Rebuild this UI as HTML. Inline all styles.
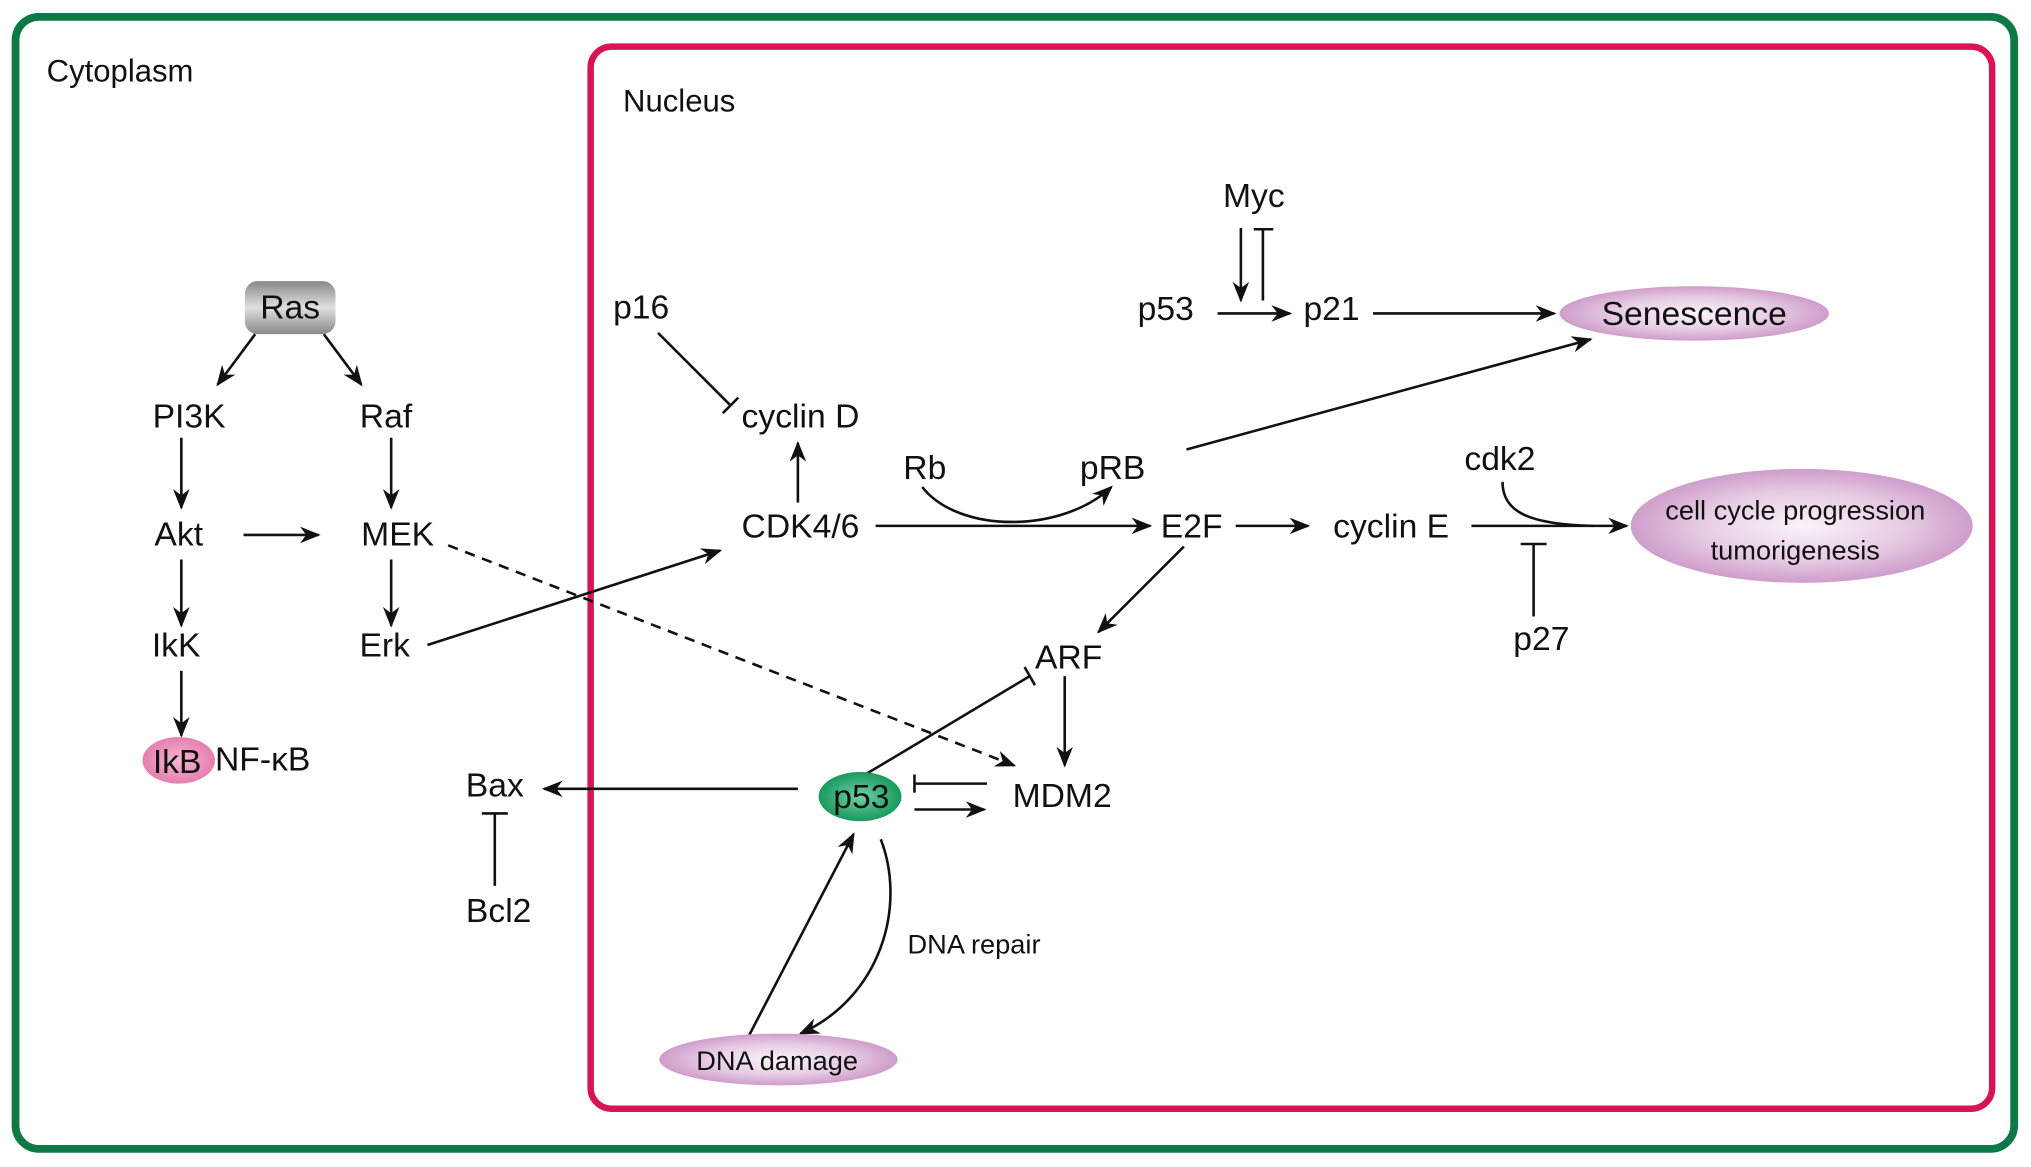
<!DOCTYPE html>
<html><head><meta charset="utf-8"><style>
html,body{margin:0;padding:0;background:#fff;}
svg{display:block;}
text{font-family:"Liberation Sans",sans-serif;fill:#111;}
</style></head><body>
<svg width="2031" height="1167" viewBox="0 0 1568 901" preserveAspectRatio="none" xmlns="http://www.w3.org/2000/svg">
<defs>
<marker id="a2" viewBox="0 0 10 10" refX="9" refY="5" markerWidth="16" markerHeight="16" markerUnits="userSpaceOnUse" orient="auto"><path d="M0,1 L10,5 L0,9 L3,5z" fill="#111"/></marker>
<radialGradient id="pur" cx="50%" cy="50%" r="50%"><stop offset="0" stop-color="#faf4f9"/><stop offset=".6" stop-color="#e6cbe3"/><stop offset="1" stop-color="#cf9dcb"/></radialGradient>
<linearGradient id="ras" x1="0" y1="0" x2="0" y2="1"><stop offset="0" stop-color="#888"/><stop offset=".5" stop-color="#e0e0e0"/><stop offset="1" stop-color="#888"/></linearGradient>
<radialGradient id="grn" cx="50%" cy="50%" r="50%"><stop offset="0" stop-color="#6fd0a5"/><stop offset="1" stop-color="#1a9a5e"/></radialGradient>
<radialGradient id="pnk" cx="50%" cy="50%" r="50%"><stop offset="0" stop-color="#f6b6d2"/><stop offset="1" stop-color="#e57fb0"/></radialGradient>
</defs>
<rect x="12" y="13" width="1543" height="874" rx="18" fill="none" stroke="#0d7a45" stroke-width="6"/>
<rect x="456" y="36" width="1082" height="820" rx="16" fill="none" stroke="#d81455" stroke-width="5"/>
<text x="36" y="63" font-size="24">Cytoplasm</text>
<text x="481" y="86" font-size="24">Nucleus</text>

<g stroke="#111" stroke-width="2" fill="none" marker-end="url(#a2)">
<line x1="197" y1="258" x2="168" y2="297"/>
<line x1="250" y1="258" x2="279" y2="297"/>
<line x1="140" y1="338" x2="140" y2="392"/>
<line x1="302" y1="338" x2="302" y2="392"/>
<line x1="188" y1="413" x2="246" y2="413"/>
<line x1="140" y1="432" x2="140" y2="483"/>
<line x1="302" y1="432" x2="302" y2="483"/>
<line x1="140" y1="518" x2="140" y2="568"/>
<line x1="330" y1="498" x2="556" y2="425"/>
<line x1="346" y1="421" x2="783" y2="591" stroke-dasharray="8,6"/>
<line x1="616" y1="388" x2="616" y2="342"/>
<line x1="676" y1="406" x2="888" y2="406"/>
<path d="M712,376 C740,412 820,412 858,376"/>
<line x1="954" y1="406" x2="1010" y2="406"/>
<line x1="1136" y1="406" x2="1256" y2="406"/>
<path d="M1160,372 C1160,395 1180,405 1230,406" marker-end="none"/>
<line x1="914" y1="422" x2="848" y2="488"/>
<line x1="822" y1="522" x2="822" y2="591"/>
<line x1="916" y1="347" x2="1228" y2="262"/>
<line x1="1060" y1="242" x2="1200" y2="242"/>
<line x1="940" y1="242" x2="996" y2="242"/>
<line x1="958" y1="176" x2="958" y2="232"/>
<line x1="616" y1="609" x2="420" y2="609"/>
<line x1="706" y1="625" x2="760" y2="625"/>
<line x1="578" y1="800" x2="659" y2="644"/>
<path d="M680,648 C700,700 680,770 618,798"/>
</g>
<g stroke="#111" stroke-width="2" fill="none">
<line x1="508" y1="257" x2="564" y2="313"/><line x1="558" y1="319" x2="570" y2="307"/>
<line x1="975" y1="232" x2="975" y2="177"/><line x1="968" y1="177" x2="983" y2="177"/>
<line x1="1184" y1="476" x2="1184" y2="420"/><line x1="1174" y1="420" x2="1194" y2="420"/>
<line x1="382" y1="684" x2="382" y2="628"/><line x1="372" y1="628" x2="392" y2="628"/>
<line x1="668" y1="598" x2="795" y2="522"/><line x1="791" y1="515" x2="799" y2="529"/>
<line x1="762" y1="605" x2="706" y2="605"/><line x1="706" y1="598" x2="706" y2="612"/>
</g>

<rect x="189" y="217" width="70" height="41" rx="10" fill="url(#ras)"/>
<text x="224" y="246" font-size="26" text-anchor="middle">Ras</text>
<text x="146" y="330" font-size="26" text-anchor="middle">PI3K</text>
<text x="298" y="330" font-size="26" text-anchor="middle">Raf</text>
<text x="138" y="421" font-size="26" text-anchor="middle">Akt</text>
<text x="307" y="421" font-size="26" text-anchor="middle">MEK</text>
<text x="136" y="507" font-size="26" text-anchor="middle">IkK</text>
<text x="297" y="507" font-size="26" text-anchor="middle">Erk</text>
<ellipse cx="138" cy="587" rx="28" ry="18" fill="url(#pnk)"/>
<text x="118" y="597" font-size="26">IkB</text>
<text x="166" y="595" font-size="26">NF-κB</text>
<text x="382" y="615" font-size="26" text-anchor="middle">Bax</text>
<text x="385" y="712" font-size="26" text-anchor="middle">Bcl2</text>

<text x="495" y="246" font-size="26" text-anchor="middle">p16</text>
<text x="618" y="330" font-size="26" text-anchor="middle">cyclin D</text>
<text x="618" y="415" font-size="26" text-anchor="middle">CDK4/6</text>
<text x="714" y="370" font-size="26" text-anchor="middle">Rb</text>
<text x="859" y="370" font-size="26" text-anchor="middle">pRB</text>
<text x="920" y="415" font-size="26" text-anchor="middle">E2F</text>
<text x="1074" y="415" font-size="26" text-anchor="middle">cyclin E</text>
<text x="1158" y="363" font-size="26" text-anchor="middle">cdk2</text>
<text x="1190" y="502" font-size="26" text-anchor="middle">p27</text>
<text x="825" y="516" font-size="26" text-anchor="middle">ARF</text>
<text x="820" y="623" font-size="26" text-anchor="middle">MDM2</text>
<ellipse cx="664" cy="615" rx="32" ry="19" fill="url(#grn)"/>
<text x="665" y="624" font-size="26" text-anchor="middle">p53</text>
<text x="752" y="736" font-size="21" text-anchor="middle">DNA repair</text>
<ellipse cx="601" cy="818" rx="92" ry="20" fill="url(#pur)"/>
<text x="600" y="826" font-size="21" text-anchor="middle">DNA damage</text>
<text x="968" y="160" font-size="26" text-anchor="middle">Myc</text>
<text x="900" y="247" font-size="26" text-anchor="middle">p53</text>
<text x="1028" y="247" font-size="26" text-anchor="middle">p21</text>
<ellipse cx="1308" cy="242" rx="104" ry="21" fill="url(#pur)"/>
<text x="1308" y="251" font-size="26" text-anchor="middle">Senescence</text>
<ellipse cx="1391" cy="406" rx="132" ry="44" fill="url(#pur)"/>
<text x="1386" y="401" font-size="21" text-anchor="middle">cell cycle progression</text>
<text x="1386" y="432" font-size="21" text-anchor="middle">tumorigenesis</text>
</svg>
</body></html>
